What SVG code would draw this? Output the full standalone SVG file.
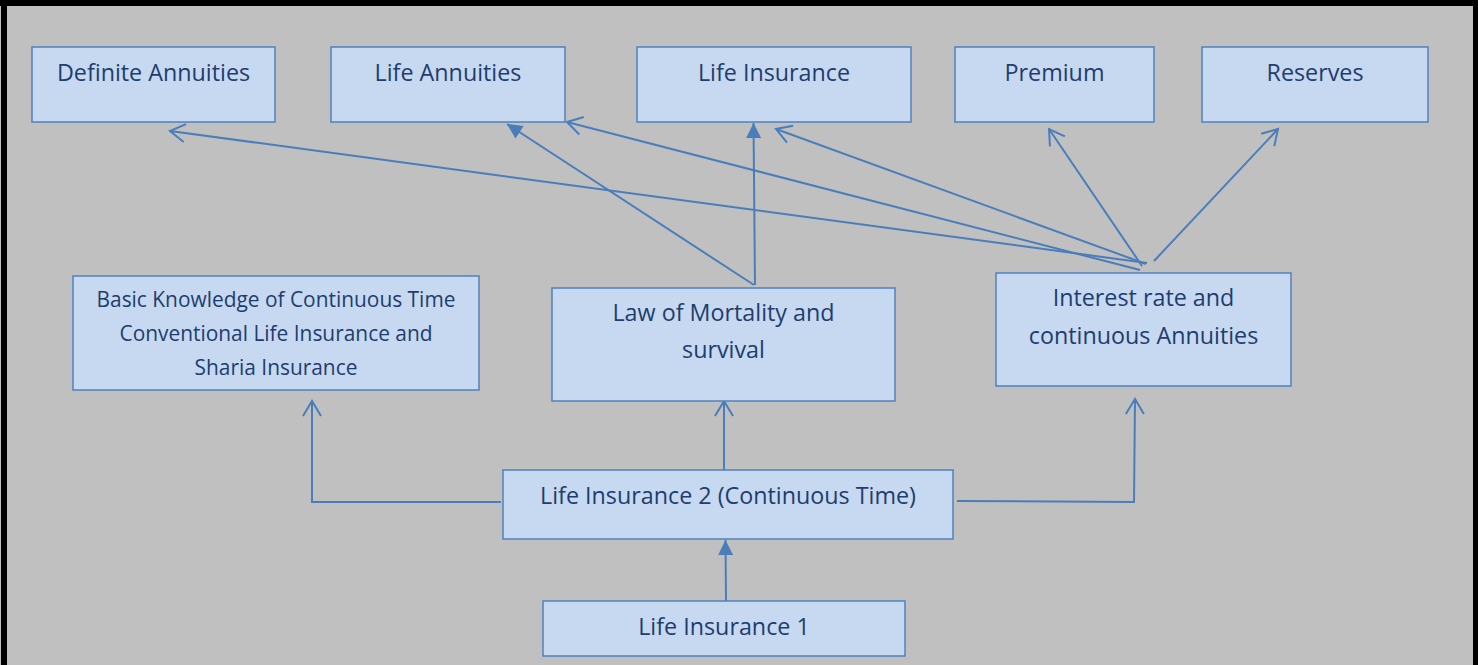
<svg xmlns="http://www.w3.org/2000/svg" width="1478" height="665" viewBox="0 0 1478 665">
<defs>
<style>
.box{fill:#C6D9F1;stroke:#4F81BD;stroke-width:1.5}
.t{font-family:"Open Sans","Noto Sans",sans-serif;font-size:23.3px;fill:#1F3D6E;text-anchor:middle}
.ts{font-family:"Open Sans","Noto Sans",sans-serif;font-size:20.9px;fill:#1F3D6E;text-anchor:middle}
.c{fill:none;stroke:#4A7EBB;stroke-width:2}
</style>
<marker id="open" markerUnits="userSpaceOnUse" markerWidth="30" markerHeight="30" viewBox="-20 -15 30 30" refX="0" refY="0" orient="auto">
<path d="M-15,-9 L0,0 L-15,9" fill="none" stroke="#4A7EBB" stroke-width="2"/>
</marker>
<marker id="fill" markerUnits="userSpaceOnUse" markerWidth="30" markerHeight="30" viewBox="-20 -15 30 30" refX="0" refY="0" orient="auto">
<path d="M-15,-7.5 L0,0 L-15,7.5 Z" fill="#4A7EBB" stroke="none"/>
</marker>
</defs>
<rect x="0" y="0" width="1478" height="665" fill="#C0C0C0"/>
<rect x="0" y="0" width="1478" height="6" fill="#000"/>
<rect x="1" y="0" width="6" height="665" fill="#000"/>
<rect x="1473" y="0" width="5" height="665" fill="#000"/>
<g id="connectors">
<line class="c" x1="726" y1="601" x2="725.5" y2="540" marker-end="url(#fill)"/>
<polyline class="c" points="501,502 312,502 312,401" marker-end="url(#open)"/>
<polyline class="c" points="957,501 1134,502 1135,399" marker-end="url(#open)"/>
<line class="c" x1="724" y1="470" x2="724" y2="401" marker-end="url(#open)"/>
<line class="c" x1="754" y1="285" x2="507" y2="124" marker-end="url(#fill)"/>
<line class="c" x1="755" y1="285" x2="753.5" y2="123" marker-end="url(#fill)"/>
<line class="c" x1="1147" y1="263" x2="170" y2="131" marker-end="url(#open)"/>
<line class="c" x1="1140" y1="270" x2="567" y2="122" marker-end="url(#open)"/>
<line class="c" x1="1146" y1="264" x2="776" y2="129" marker-end="url(#open)"/>
<line class="c" x1="1142" y1="266" x2="1049" y2="129" marker-end="url(#open)"/>
<line class="c" x1="1154" y1="261" x2="1278" y2="129" marker-end="url(#open)"/>
</g>
<g id="definite-annuities"><rect class="box" x="32" y="47" width="243" height="75"/><text class="t" x="153.5" y="81">Definite Annuities</text></g>
<g id="life-annuities"><rect class="box" x="331" y="47" width="234" height="75"/><text class="t" x="448" y="81">Life Annuities</text></g>
<g id="life-insurance"><rect class="box" x="637" y="47" width="274" height="75"/><text class="t" x="774" y="81">Life Insurance</text></g>
<g id="premium"><rect class="box" x="955" y="47" width="199" height="75"/><text class="t" x="1054.5" y="81">Premium</text></g>
<g id="reserves"><rect class="box" x="1202" y="47" width="226" height="75"/><text class="t" x="1315" y="81">Reserves</text></g>
<g id="basic-knowledge"><rect class="box" x="73" y="276" width="406" height="114"/>
<text class="ts" x="276" y="307">Basic Knowledge of Continuous Time</text>
<text class="ts" x="276" y="341">Conventional Life Insurance and</text>
<text class="ts" x="276" y="375">Sharia Insurance</text></g>
<g id="law-of-mortality"><rect class="box" x="552" y="288" width="343" height="113"/>
<text class="t" x="723.5" y="321">Law of Mortality and</text>
<text class="t" x="723.5" y="358">survival</text></g>
<g id="interest-rate"><rect class="box" x="996" y="273" width="295" height="113"/>
<text class="t" x="1143.5" y="306">Interest rate and</text>
<text class="t" x="1143.5" y="344">continuous Annuities</text></g>
<g id="life-insurance-2"><rect class="box" x="503" y="470" width="450" height="69"/><text class="t" x="728" y="504">Life Insurance 2 (Continuous Time)</text></g>
<g id="life-insurance-1"><rect class="box" x="543" y="601" width="362" height="55"/><text class="t" x="724" y="635">Life Insurance 1</text></g>
</svg>
